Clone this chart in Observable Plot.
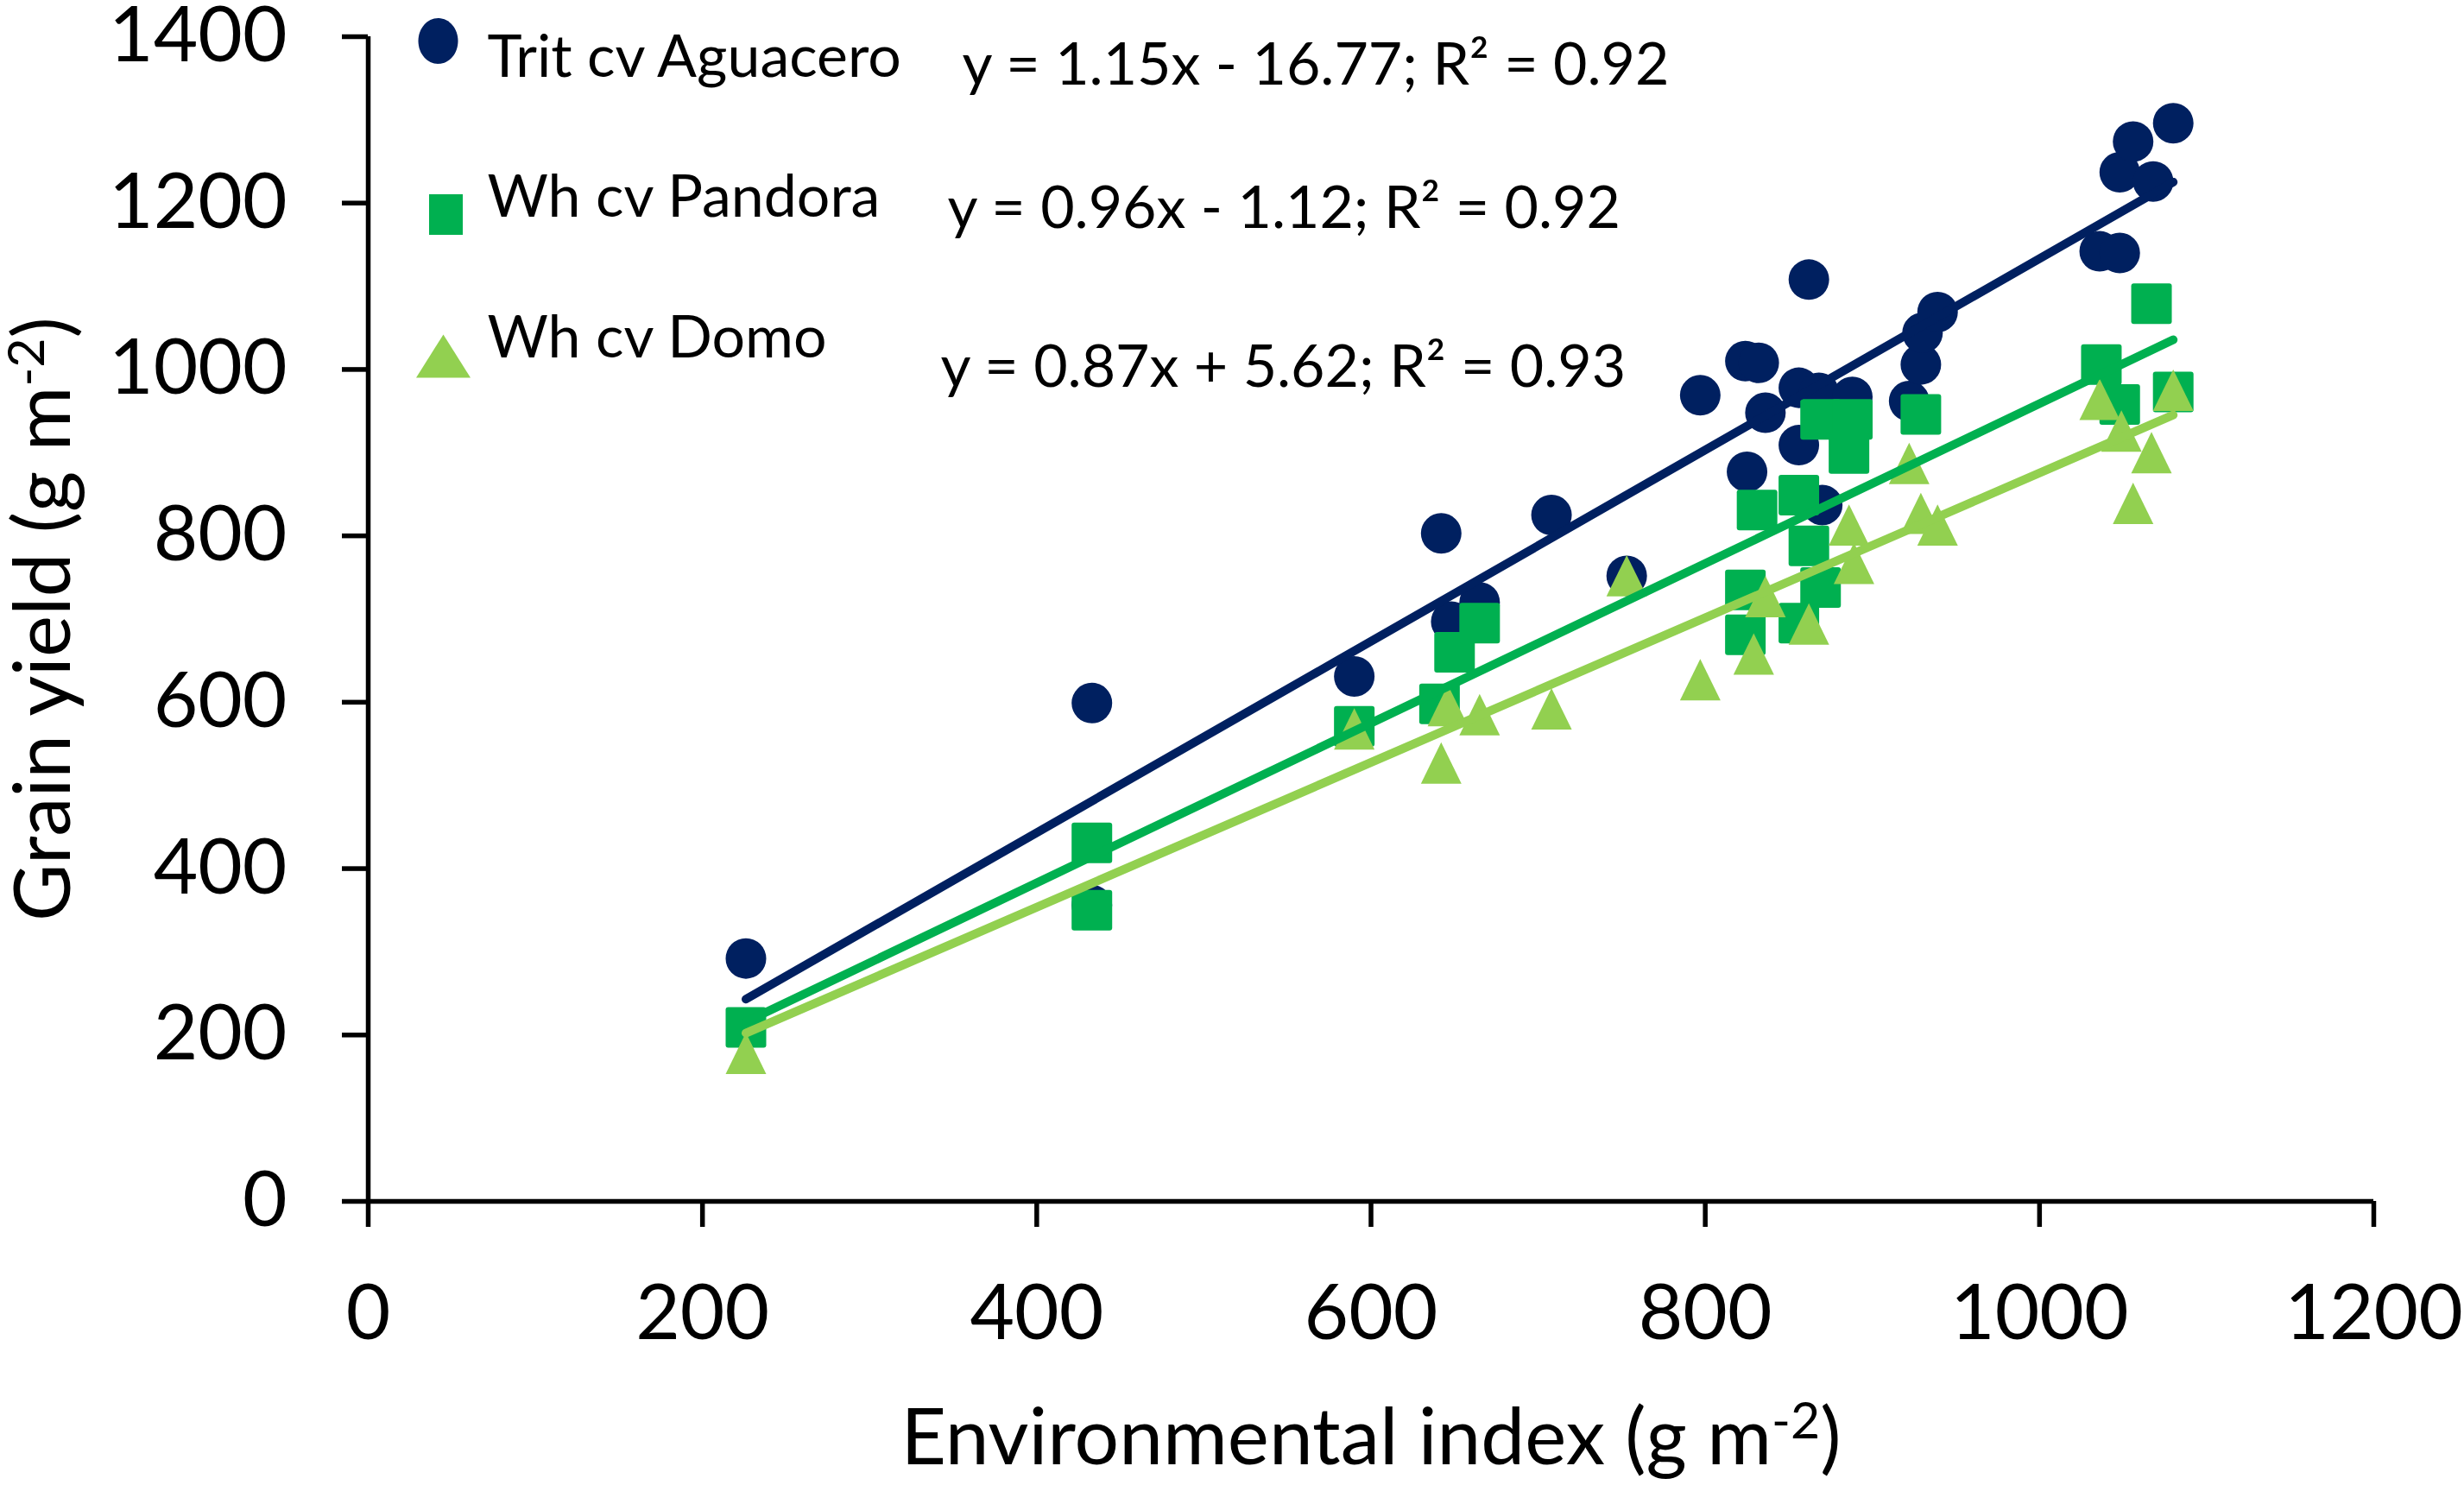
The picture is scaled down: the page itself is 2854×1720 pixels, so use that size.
<!DOCTYPE html>
<html>
<head>
<meta charset="utf-8">
<script src="https://cdn.jsdelivr.net/npm/d3@7"></script>
<script src="https://cdn.jsdelivr.net/npm/@observablehq/plot@0.6"></script>
<style>
  html, body { margin: 0; padding: 0; background: #ffffff; }
  #chart svg { display: block; }
</style>
</head>
<body>
<div id="chart"></div>
<script>
// ---------------- data ----------------
const series = ["Trit cv Aguacero", "Wh cv Pandora", "Wh cv Domo"];
const colors = ["#002060", "#00B050", "#92D050"];

const aguaceroX = [226, 433, 433, 590, 642, 648, 665, 708, 753, 797, 824, 832, 825, 836, 856, 868, 888, 856, 870, 862, 922, 929, 930, 939, 1036, 1048, 1048, 1056, 1068, 1080];
const aguaceroY = [292, 599, 356, 631, 803, 697, 720, 825, 752, 969, 1010, 1008, 877, 948, 978, 972, 967, 909, 837, 1108, 962, 1006, 1044, 1069, 1142, 1140, 1237, 1274, 1226, 1296];

const pandoraX = [226, 433, 433, 590, 641, 650, 665, 824, 824, 831, 856, 862, 856, 869, 869, 888, 886, 929, 1037, 1048, 1067, 1080];
const pandoraY = [209, 431, 350, 571, 598, 660, 695, 735, 681, 831, 849, 788, 695, 738, 940, 940, 899, 946, 1006, 958, 1079, 973];

const domoX = [226, 590, 642, 646, 665, 708, 753, 797, 829, 836, 862, 886, 889, 922, 929, 939, 1036, 1049, 1056, 1067, 1080];
const domoY = [178, 568, 527, 596, 585, 592, 752, 627, 658, 727, 694, 813, 767, 887, 827, 813, 964, 926, 839, 900, 975];

// linear trendlines as printed on the chart
const slopes = [1.15, 0.96, 0.87];
const intercepts = [-16.77, -1.12, 5.62];
const rSquared = [0.92, 0.92, 0.93];
const trendRange = [226, 1080]; // min / max environmental index

const xTicks = [0, 200, 400, 600, 800, 1000, 1200];
const yTicks = [0, 200, 400, 600, 800, 1000, 1200, 1400];
const xTitle = "Environmental index (g m-2)";
const yTitle = "Grain yield (g m-2)";

// ---------------- build tables ----------------
const toRows = (xs, ys, name) => xs.map((x, i) => ({ x, y: ys[i], series: name }));
const aguacero = toRows(aguaceroX, aguaceroY, series[0]);
const pandora = toRows(pandoraX, pandoraY, series[1]);
const domo = toRows(domoX, domoY, series[2]);
const trends = series.map((s, i) => trendRange.map(x => ({ x, y: slopes[i] * x + intercepts[i], series: s })));
const fmt = v => v.toFixed(2);
const equations = series.map((s, i) =>
  `y = ${fmt(slopes[i])}x ${intercepts[i] < 0 ? "-" : "+"} ${fmt(Math.abs(intercepts[i]))}; R² = ${fmt(rSquared[i])}`);

// ---------------- symbols ----------------
const circleSym = { draw(ctx, size) { const r = Math.sqrt(size / Math.PI); ctx.moveTo(r, 0); ctx.arc(0, 0, r, 0, 2 * Math.PI); ctx.closePath(); } };
const squareSym = { draw(ctx, size) {
  const r = Math.sqrt(size / Math.PI), c = 3;
  ctx.moveTo(-r + c, -r); ctx.lineTo(r - c, -r); ctx.arcTo(r, -r, r, -r + c, c);
  ctx.lineTo(r, r - c); ctx.arcTo(r, r, r - c, r, c);
  ctx.lineTo(-r + c, r); ctx.arcTo(-r, r, -r, r - c, c);
  ctx.lineTo(-r, -r + c); ctx.arcTo(-r, -r, -r + c, -r, c); ctx.closePath(); } };
const triangleSym = { draw(ctx, size) {
  const r = Math.sqrt(size / Math.PI), h = r * 1.02;
  ctx.moveTo(0, -h); ctx.lineTo(r, h); ctx.lineTo(-r, h); ctx.closePath(); } };
// legend (stretched) marker shapes
const ellipseSym = (rx, ry) => ({ draw(ctx) { const k = 0.5523;
  ctx.moveTo(rx, 0);
  ctx.bezierCurveTo(rx, ry * k, rx * k, ry, 0, ry);
  ctx.bezierCurveTo(-rx * k, ry, -rx, ry * k, -rx, 0);
  ctx.bezierCurveTo(-rx, -ry * k, -rx * k, -ry, 0, -ry);
  ctx.bezierCurveTo(rx * k, -ry, rx, -ry * k, rx, 0); ctx.closePath(); } });
const rectSym = (hw, hh) => ({ draw(ctx) { ctx.rect(-hw, -hh, 2 * hw, 2 * hh); } });
const triSym = (hw, hh) => ({ draw(ctx) { ctx.moveTo(0, -hh); ctx.lineTo(hw, hh); ctx.lineTo(-hw, hh); ctx.closePath(); } });

const FONT = "Lato, 'Open Sans', sans-serif";
const legendFont = 68;
const legendSyms = [ellipseSym(23, 26.5), rectSym(19.5, 23.5), triSym(31.5, 25)];
const legendSymOff = [[81, 5], [90, 206], [87, 370]];
const legendTextOff = [[138, 46], [138, 208], [138, 371]];
const eqOff = [[688, 55], [671, 221], [663, 405]];

const chart = Plot.plot({
  width: 2854,
  height: 1720,
  marginLeft: 426,
  marginRight: 105,
  marginTop: 42,
  marginBottom: 329,
  style: { fontFamily: FONT, fontSize: "89px", color: "#000", background: "#fff", overflow: "visible" },
  x: { domain: [0, 1200] },
  y: { domain: [0, 1400] },
  marks: [
    Plot.dot(aguacero, { x: "x", y: "y", r: 23.5, symbol: circleSym, fill: colors[0] }),
    Plot.dot(pandora, { x: "x", y: "y", r: 23.5, symbol: squareSym, fill: colors[1] }),
    Plot.dot(domo, { x: "x", y: "y", r: 23.5, symbol: triangleSym, fill: colors[2] }),
    ...trends.map((t, i) => Plot.line(t, { x: "x", y: "y", stroke: colors[i], strokeWidth: 10, strokeLinecap: "round" })),
    Plot.ruleY([0], { stroke: "#000", strokeWidth: 5.5 }),
    Plot.ruleX([0], { stroke: "#000", strokeWidth: 5.5 }),
    Plot.axisX({ ticks: xTicks, tickSize: 30, tickPadding: 66, strokeWidth: 5.5, label: null, tickFormat: d => String(d), fontSize: 89 }),
    Plot.axisY({ ticks: yTicks, tickSize: 30, tickPadding: 64, strokeWidth: 5.5, label: null, tickFormat: d => String(d), fontSize: 89 }),
    Plot.text([xTitle], { frameAnchor: "bottom", dy: 304, text: d => d, textAnchor: "middle", lineAnchor: "bottom", fontSize: 91, fill: "#000" }),
    Plot.text([yTitle], { frameAnchor: "left", dx: -346, text: d => d, textAnchor: "middle", lineAnchor: "bottom", rotate: -90, fontSize: 91, fill: "#000" }),
    ...series.map((s, i) => Plot.dot([s], { frameAnchor: "top-left", dx: legendSymOff[i][0], dy: legendSymOff[i][1], r: 20, symbol: legendSyms[i], fill: colors[i] })),
    ...series.map((s, i) => Plot.text([s], { frameAnchor: "top-left", dx: legendTextOff[i][0], dy: legendTextOff[i][1], text: d => d, textAnchor: "start", lineAnchor: "bottom", fontSize: legendFont, fill: "#000" })),
    ...equations.map((e, i) => Plot.text([e], { frameAnchor: "top-left", dx: eqOff[i][0], dy: eqOff[i][1], text: d => d, textAnchor: "start", lineAnchor: "bottom", fontSize: legendFont, fill: "#000" }))
  ]
});

// superscript "-2" in the unit strings (kept as real text)
chart.querySelectorAll("text").forEach(t => {
  const s = t.textContent;
  if (s.endsWith("(g m-2)")) {
    const base = s.slice(0, -3);
    t.textContent = "";
    const ns = "http://www.w3.org/2000/svg";
    const a = document.createElementNS(ns, "tspan"); a.textContent = base;
    const b = document.createElementNS(ns, "tspan"); b.textContent = "-2";
    b.setAttribute("dy", "-30"); b.setAttribute("font-size", "59");
    const c = document.createElementNS(ns, "tspan"); c.textContent = ")";
    c.setAttribute("dy", "30");
    t.append(a, b, c);
  }
});

document.getElementById("chart").append(chart);
</script>
</body>
</html>
